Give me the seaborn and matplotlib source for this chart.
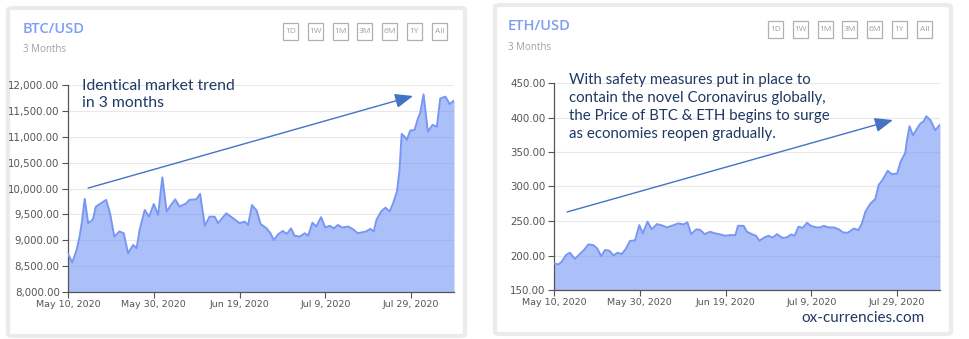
import numpy as np
import pandas as pd
import matplotlib
matplotlib.use("Agg")
import matplotlib.pyplot as plt
from matplotlib.patches import FancyBboxPatch, Rectangle
from matplotlib.ticker import FuncFormatter
import seaborn as sns

# ---------------- data ----------------
start_date = "2020-05-10"
btc_day = [0, 1, 2, 2.7, 3.2, 3.9, 4.7, 5.8, 6.5, 8.9, 9.8, 10.8, 12, 13, 14, 15.2, 16,
           16.7, 17.9, 18.9, 20, 21, 22, 23, 24, 25, 26, 27.5, 28.3, 29.9, 30.8, 31.9,
           33, 34.2, 35, 36.9, 38.5, 40, 41.2, 42, 42.9, 44, 44.9, 46.3, 47.2, 48, 49,
           50.1, 51, 52, 52.8, 54, 55.2, 56, 57, 57.9, 59, 60, 61, 62, 62.9, 64, 65.3,
           66.4, 67.6, 69.5, 70.5, 71.3, 71.9, 73, 74, 75, 75.8, 76.7, 77.3, 77.8, 78.5,
           79, 79.8, 80.8, 81.6, 82.1, 82.9, 83.9, 85, 86, 86.8, 88, 89, 90]
btc_price = [8735, 8570, 8810, 9070, 9330, 9800, 9330, 9400, 9650, 9780, 9520, 9070, 9170,
             9135, 8750, 8910, 8845, 9200, 9585, 9455, 9700, 9490, 10215, 9555, 9680, 9790,
             9650, 9710, 9780, 9790, 9895, 9280, 9455, 9455, 9330, 9520, 9425, 9330, 9360,
             9295, 9680, 9570, 9315, 9230, 9135, 9005, 9115, 9180, 9120, 9230, 9090, 9070,
             9135, 9090, 9340, 9265, 9445, 9245, 9280, 9230, 9295, 9245, 9265, 9215, 9135,
             9170, 9220, 9170, 9390, 9555, 9630, 9555, 9715, 9940, 10360, 11055, 11000,
             10940, 11120, 11130, 11355, 11450, 11820, 11100, 11230, 11195, 11740, 11775,
             11630, 11700]
eth_day = [0, 1, 1.8, 2.8, 3.7, 4.9, 6, 7, 8, 9.2, 10.1, 11, 11.9, 12.9, 13.9, 14.8, 15.8,
           16.8, 17.7, 18.9, 19.9, 20.7, 21.8, 22.8, 24, 25.5, 26.3, 27.9, 29, 30.2, 31.1,
           32, 33.2, 34.1, 35.1, 36.4, 37.6, 38.8, 40, 41.1, 42.3, 42.9, 44.2, 45, 46.1,
           47.1, 47.9, 49, 50, 51, 52, 53.2, 54.2, 55.3, 56.1, 57, 58, 59, 60, 61.2, 62.1,
           62.9, 64, 65.2, 66.4, 67.4, 68.5, 69.9, 71, 71.8, 72.6, 73.8, 74.9, 75.7, 76.7,
           77.8, 78.8, 80, 80.8, 81.9, 82.3, 82.9, 83.7, 84.5, 85.4, 86.2, 86.8, 87.8, 88.9,
           90]
eth_price = [188.6, 187, 191, 200.6, 204, 195, 202, 208, 216, 215, 210, 199, 208, 207, 200,
             204, 202, 210, 221, 222, 244, 232, 249, 238, 245.5, 243, 240.7, 244, 246.5, 245,
             248, 231, 238, 237, 231, 234.4, 232, 230.5, 228.6, 229.6, 229.6, 243, 243,
             234.4, 231, 228.6, 221.4, 226, 228.6, 226, 231, 225.7, 226, 230.5, 228.6, 241.7,
             240, 247.4, 242.6, 240.7, 240.7, 243, 240.7, 240.7, 238, 233.4, 233, 239, 237,
             246.5, 263.4, 275.4, 281.7, 302, 310.6, 322.7, 317.8, 318.8, 335.7, 348.7, 367,
             387.3, 374, 382.5, 391, 394.5, 401.8, 396, 381.5, 389.7]
tick_dates = ["2020-05-10", "2020-05-30", "2020-06-19", "2020-07-09", "2020-07-29"]
tick_labels = ["May 10, 2020", "May 30, 2020", "Jun 19, 2020", "Jul 9, 2020", "Jul 29, 2020"]
end_date = "2020-08-08"
btc_yticks = [8000, 8500, 9000, 9500, 10000, 10500, 11000, 11500, 12000]
eth_yticks = [150, 200, 250, 300, 350, 400, 450]
buttons = ["1D", "1W", "1M", "3M", "6M", "1Y", "All"]
titles = ["BTC/USD", "ETH/USD"]
subtitle = "3 Months"
note_btc = "Identical market trend\nin 3 months"
note_eth = ("With safety measures put in place to\ncontain the novel Coronavirus globally,\n"
            "the Price of BTC & ETH begins to surge\nas economies reopen gradually.")
watermark = "ox-currencies.com"

# ---------------- style ----------------
sns.set_theme(style="white")
plt.rcParams["font.family"] = ["DejaVu Sans"]

W, H = 970, 339
fig = plt.figure(figsize=(W / 100, H / 100), dpi=100)
fig.patch.set_facecolor("white")

LINE = "#7896f3"
FILL = "#6f93f5"
NAVY = "#1f3864"
ARROW = "#4472c4"


def fx(px):
    return px / W


def fy(py):
    return 1 - py / H


def card(x0, y0, x1, y1):
    p = FancyBboxPatch((fx(x0), fy(y1)), fx(x1) - fx(x0), fy(y0) - fy(y1),
                       boxstyle="round,pad=0,rounding_size=0.006",
                       transform=fig.transFigure, facecolor="white",
                       edgecolor="#ebebeb", lw=3, zorder=-5)
    fig.patches.append(p)


def header(x, y, title, bx0, by):
    fig.text(fx(x), fy(y), title, color="#7e9ef5", fontsize=10.5, fontweight="semibold",
             ha="left", va="center", family="Open Sans")
    fig.text(fx(x), fy(y + 21), subtitle, color="#a0a0a0", fontsize=7,
             ha="left", va="center", family="Open Sans")
    for i, b in enumerate(buttons):
        bx = bx0 + i * 24.8
        r = Rectangle((fx(bx), fy(by + 17)), fx(15), 17 / H, transform=fig.transFigure,
                      facecolor="white", edgecolor="#b0b0b0", lw=0.9, zorder=-4)
        fig.patches.append(r)
        fig.text(fx(bx + 7.5), fy(by + 8.5), b, color="#a0a0a0", fontsize=6,
                 ha="center", va="center", family="Open Sans")


def panel(rect, days, price, yticks, arrow_from, arrow_to):
    ax = fig.add_axes(rect)
    ax.set_zorder(1)
    dates = pd.Timestamp(start_date) + pd.to_timedelta(days, unit="D")
    df = pd.DataFrame({"date": dates, "price": price})
    ax.fill_between(df["date"], df["price"], yticks[0], color=FILL, alpha=0.58, lw=0, zorder=2)
    sns.lineplot(data=df, x="date", y="price", ax=ax, color=LINE, lw=1.4, zorder=3)
    ax.set_xlim(pd.Timestamp(start_date), pd.Timestamp(end_date))
    ax.set_ylim(yticks[0], yticks[-1])
    ax.set_yticks(yticks)
    ax.yaxis.set_major_formatter(FuncFormatter(lambda v, p: f"{v:,.2f}"))
    ax.set_xticks(pd.to_datetime(tick_dates))
    ax.set_xticklabels(tick_labels)
    ax.set_xlabel("")
    ax.set_ylabel("")
    ax.yaxis.grid(True, color="#e8e8e8", lw=0.8, zorder=0)
    ax.set_axisbelow(True)
    for s in ["top", "right"]:
        ax.spines[s].set_visible(False)
    for s in ["left", "bottom"]:
        ax.spines[s].set_color("#555555")
        ax.spines[s].set_linewidth(0.9)
    ax.tick_params(axis="both", which="both", left=True, bottom=True, length=4,
                   color="#555555", width=0.8, labelcolor="#555555", pad=2)
    ax.tick_params(axis="x", labelsize=6.8)
    ax.tick_params(axis="y", labelsize=7.4)
    ax.patch.set_alpha(0)
    ax.annotate("", xy=arrow_to, xytext=arrow_from, xycoords="axes fraction",
                arrowprops=dict(arrowstyle="-|>,head_length=0.55,head_width=0.22",
                                color=ARROW, lw=1.0, mutation_scale=20,
                                shrinkA=0, shrinkB=0), zorder=5)
    return ax


card(8, 8, 465, 336)
card(495, 5, 951, 334)
header(23, 29, titles[0], 283, 23)
header(508, 26, titles[1], 768, 21)

panel([fx(68), fy(292), 386 / W, 207 / H], btc_day, btc_price, btc_yticks,
      (0.052, 0.502), (0.894, 0.947))
panel([fx(554), fy(290), 386 / W, 207 / H], eth_day, eth_price, eth_yticks,
      (0.034, 0.377), (0.878, 0.821))

fig.text(fx(82), fy(79), note_btc, color=NAVY, fontsize=11.3, family="Lato",
         ha="left", va="top", linespacing=1.3, zorder=10)
fig.text(fx(569), fy(73), note_eth, color=NAVY, fontsize=10.8, family="Lato",
         ha="left", va="top", linespacing=1.35, zorder=10)
fig.text(fx(925), fy(318), watermark, color=NAVY, fontsize=11, family="Lato",
         ha="right", va="center", zorder=10)

fig.savefig("out.png", dpi=100, facecolor="white")
